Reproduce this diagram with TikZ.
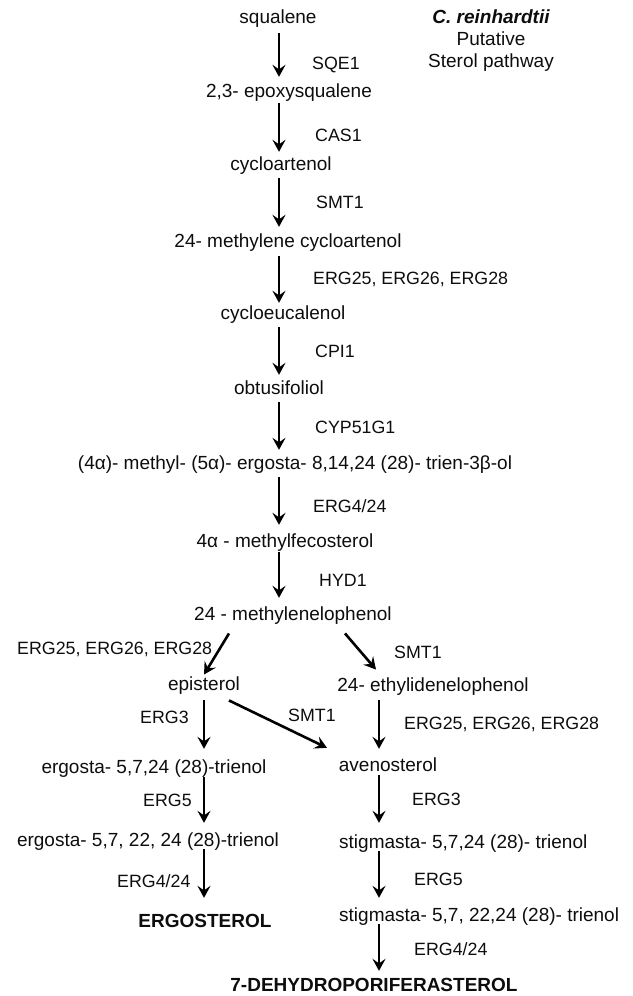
\documentclass[tikz,border=0pt]{standalone}
\usepackage{fontspec}
\setmainfont{Liberation Sans}
\usetikzlibrary{arrows.meta}
\begin{document}
\begin{tikzpicture}[x=1pt,y=-1pt,
  cmp/.style={inner sep=0pt, text height=13.7pt, text depth=2.8pt, font=\fontsize{19}{23}\selectfont, text=black!95},
  enz/.style={inner sep=0pt, anchor=west, text height=12.8pt, text depth=0pt, font=\fontsize{17.8}{21}\selectfont, text=black!95},
  ttl/.style={inner sep=0pt, text height=13.7pt, text depth=2.8pt, font=\fontsize{19}{23}\selectfont, text=black!95},
  arr/.style={line width=2.6pt, draw=black, -{Stealth[length=12pt,width=13pt,inset=4.5pt]}}
]
\useasboundingbox (0,0) rectangle (632,996);
\coordinate (cA) at (279,0);
\coordinate (cB) at (204,0);
\coordinate (cC) at (379,0);
% compounds
\node[cmp] (sq) at (278,18) {squalene};
\node[cmp] (ep) at (289,92) {2,3- epoxysqualene};
\node[cmp] (cy) at (281,165) {cycloartenol};
\node[cmp] (mc) at (288,242) {24- methylene cycloartenol};
\node[cmp] (ce) at (283,314) {cycloeucalenol};
\node[cmp] (ob) at (279,389) {obtusifoliol};
\node[cmp] (me) at (295,464) {(4α)- methyl- (5α)- ergosta- 8,14,24 (28)- trien-3β-ol};
\node[cmp] (mf) at (285,542) {4α - methylfecosterol};
\node[cmp] (ml) at (293,615) {24 - methylenelophenol};
\node[cmp] (epi) at (204,685) {episterol};
\node[cmp] (et) at (433,686) {24- ethylidenelophenol};
\node[cmp] (e1) at (154,768) {ergosta- 5,7,24 (28)-trienol};
\node[cmp] (av) at (388,766) {avenosterol};
\node[cmp] (e2) at (148,841) {ergosta- 5,7, 22, 24 (28)-trienol};
\node[cmp,anchor=west] (s1) at (339,843) {stigmasta- 5,7,24 (28)- trienol};
\node[cmp,font=\fontsize{19}{23}\selectfont\bfseries] (erg) at (205,922) {ERGOSTEROL};
\node[cmp,anchor=west] (s2) at (339,916) {stigmasta- 5,7, 22,24 (28)- trienol};
\node[cmp,font=\fontsize{19}{23}\selectfont\bfseries] (dp) at (374,986) {7-DEHYDROPORIFERASTEROL};
% title
\node[ttl,font=\fontsize{19}{23}\selectfont\bfseries\itshape] (t1) at (491,18) {C. reinhardtii};
\node[ttl] (t2) at (491,40) {Putative};
\node[ttl] (t3) at (491,62) {Sterol pathway};
% enzymes
\node[enz] (l1) at (312,63) {SQE1};
\node[enz] (l2) at (315,135) {CAS1};
\node[enz] (l3) at (316,202) {SMT1};
\node[enz] (l4) at (313,278) {ERG25, ERG26, ERG28};
\node[enz] (l5) at (315,351) {CPI1};
\node[enz] (l6) at (315,427) {CYP51G1};
\node[enz] (l7) at (313,506) {ERG4/24};
\node[enz] (l8) at (319,580) {HYD1};
\node[enz] (l9) at (17,648) {ERG25, ERG26, ERG28};
\node[enz] (l10) at (394,652) {SMT1};
\node[enz] (l11) at (140,717) {ERG3};
\node[enz] (l12) at (288,715) {SMT1};
\node[enz] (l13) at (404,723) {ERG25, ERG26, ERG28};
\node[enz] (l14) at (143,800) {ERG5};
\node[enz] (l15) at (412,799) {ERG3};
\node[enz] (l16) at (117,881) {ERG4/24};
\node[enz] (l17) at (414,879) {ERG5};
\node[enz] (l18) at (414,949) {ERG4/24};
% main column arrows
\draw[arr, shorten <=6.7pt, shorten >=6.7pt] (sq.south -| cA) -- (ep.north -| cA);
\draw[arr, shorten <=2.7pt, shorten >=4.7pt] (ep.south -| cA) -- (cy.north -| cA);
\draw[arr, shorten <=4.7pt, shorten >=6.7pt] (cy.south -| cA) -- (mc.north -| cA);
\draw[arr, shorten <=5.7pt, shorten >=2.7pt] (mc.south -| cA) -- (ce.north -| cA);
\draw[arr, shorten <=4.7pt, shorten >=5.7pt] (ce.south -| cA) -- (ob.north -| cA);
\draw[arr, shorten <=4.7pt, shorten >=5.7pt] (ob.south -| cA) -- (me.north -| cA);
\draw[arr, shorten <=4.7pt, shorten >=8.7pt] (me.south -| cA) -- (mf.north -| cA);
\draw[arr, shorten <=1.7pt, shorten >=8.7pt] (mf.south -| cA) -- (ml.north -| cA);
% branches
\draw[arr] ([xshift=-64pt,yshift=-10pt]ml.south) -- ([yshift=2pt]epi.north);
\draw[arr] ([xshift=52pt,yshift=-10pt]ml.south) -- ([xshift=-57pt,yshift=8pt]et.north);
\draw[arr] ([xshift=25pt,yshift=-7pt]epi.south) -- ([xshift=-61pt,yshift=9.7pt]av.north);
% left column
\draw[arr, shorten <=6.7pt, shorten >=10.7pt] (epi.south -| cB) -- (e1.north -| cB);
\draw[arr, shorten <=0.7pt, shorten >=9.7pt] (e1.south -| cB) -- (e2.north -| cB);
\draw[arr, shorten <=0pt, shorten >=15.7pt] (e2.south -| cB) -- (erg.north -| cB);
% right column
\draw[arr, shorten <=5.7pt, shorten >=8.7pt] (et.south -| cC) -- (av.north -| cC);
\draw[arr, shorten <=0.7pt, shorten >=11.7pt] (av.south -| cC) -- (s1.north -| cC);
\draw[arr, shorten <=0pt, shorten >=9.7pt] (s1.south -| cC) -- (s2.north -| cC);
\draw[arr, shorten <=0pt, shorten >=6.7pt] (s2.south -| cC) -- (dp.north -| cC);
\end{tikzpicture}
\end{document}
